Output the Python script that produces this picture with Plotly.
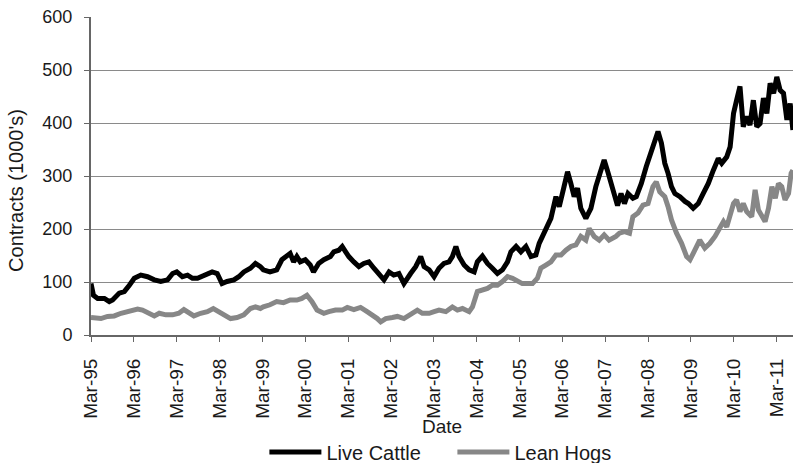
import pandas as pd
import plotly.graph_objects as go

# weekly open interest at roughly monthly steps
cattle_dates = [
    "1995-03-01", "1995-03-22", "1995-04-27", "1995-06-23", "1995-08-04", "1995-09-01", "1995-10-28", "1995-12-10",
    "1996-01-22", "1996-03-04", "1996-04-29", "1996-06-25", "1996-08-22", "1996-10-16", "1996-12-13",
    "1997-01-25", "1997-03-01", "1997-04-18", "1997-06-01", "1997-07-13", "1997-08-25", "1997-10-19", "1997-12-28",
    "1998-02-09", "1998-03-22", "1998-05-04", "1998-07-01", "1998-08-12", "1998-09-24", "1998-11-19",
    "1999-01-01", "1999-02-12",
    "1999-03-09", "1999-05-05", "1999-07-01", "1999-08-14", "1999-09-26", "1999-10-24", "1999-11-22", "1999-12-20",
    "2000-01-18", "2000-03-01", "2000-04-12", "2000-05-10", "2000-06-23", "2000-08-06", "2000-10-01", "2000-10-30", "2000-12-12",
    "2001-01-10", "2001-02-08", "2001-03-07", "2001-04-19", "2001-06-01", "2001-07-13", "2001-08-25", "2001-10-07", "2001-11-19",
    "2002-01-01", "2002-02-13", "2002-03-25", "2002-05-08", "2002-06-20", "2002-08-16", "2002-09-28", "2002-11-10", "2002-12-09",
    "2003-01-21", "2003-03-04",
    "2003-04-15", "2003-05-27", "2003-07-09", "2003-08-07", "2003-09-06", "2003-10-03", "2003-11-15", "2003-12-28",
    "2004-02-09", "2004-03-07", "2004-04-19", "2004-06-01", "2004-07-13", "2004-08-25", "2004-10-07", "2004-11-19", "2004-12-18",
    "2005-01-31", "2005-03-13", "2005-04-25", "2005-06-07", "2005-07-19", "2005-08-16", "2005-09-28", "2005-10-26", "2005-11-24",
    "2006-01-06", "2006-02-03", "2006-03-16", "2006-04-15", "2006-05-13", "2006-06-10", "2006-07-09", "2006-08-06", "2006-09-18",
    "2006-10-31", "2006-12-12",
    "2007-01-24", "2007-02-21", "2007-03-20", "2007-05-03", "2007-06-15",
    "2007-07-15", "2007-08-13", "2007-09-12", "2007-10-24", "2007-11-22",
    "2008-01-04", "2008-02-15", "2008-03-28", "2008-04-27", "2008-05-25", "2008-06-23", "2008-07-22", "2008-08-19", "2008-09-17",
    "2008-10-16", "2008-11-28",
    "2009-01-10", "2009-02-08", "2009-03-21", "2009-05-03", "2009-06-15", "2009-07-28", "2009-09-09", "2009-10-21", "2009-11-19",
    "2010-01-01", "2010-01-30", "2010-02-28", "2010-03-26", "2010-04-24", "2010-05-22", "2010-06-20", "2010-07-18", "2010-08-16",
    "2010-09-14", "2010-10-12", "2010-11-10", "2010-12-09",
    "2011-01-06", "2011-02-05", "2011-03-04", "2011-04-01", "2011-04-30", "2011-05-29", "2011-06-26", "2011-07-19",
]
cattle_values = [
    97, 75, 69, 69, 63, 66, 79, 82,
    94, 107, 113, 110, 104, 101, 104,
    116, 119, 110, 113, 107, 107, 113, 119,
    116, 97, 101, 104, 110, 119, 126,
    135, 129,
    123, 119, 123, 142, 148, 154, 138, 148,
    138, 142, 132, 119, 135, 142, 148, 157, 160,
    167, 157, 148, 138, 129, 135, 138, 126, 116,
    104, 119, 113, 116, 97, 116, 129, 148, 129,
    123, 110,
    126, 135, 138, 148, 167, 148, 132, 123,
    119, 138, 149, 135, 126, 116, 123, 138, 157,
    167, 157, 167, 148, 151, 173, 192, 204, 220,
    261, 242, 280, 308, 286, 261, 277, 239, 220,
    239, 280,
    311, 330, 311, 280, 244,
    267, 248, 267, 258, 261,
    286, 318, 343, 362, 384, 362, 324, 305, 280,
    267, 261,
    252, 248, 239, 248, 267, 286, 311, 333, 324,
    336, 355, 418, 443, 469, 393, 412, 396, 443,
    393, 399, 447, 418,
    475, 456, 487, 462, 456, 406, 437, 387,
]

hogs_dates = [
    "1995-03-01", "1995-05-25", "1995-07-20", "1995-09-15", "1995-11-12",
    "1996-01-07", "1996-04-01", "1996-05-13", "1996-07-09", "1996-08-22", "1996-10-03", "1996-11-28",
    "1997-01-25", "1997-03-19", "1997-05-01", "1997-06-13", "1997-07-25", "1997-09-21", "1997-11-17",
    "1998-01-07", "1998-02-24", "1998-04-07", "1998-06-03", "1998-07-28", "1998-09-24", "1998-11-19",
    "1999-01-01", "1999-02-12",
    "1999-03-09", "1999-05-05", "1999-07-01", "1999-08-28", "1999-10-24", "1999-12-20",
    "2000-02-01", "2000-03-15", "2000-04-27", "2000-06-09", "2000-08-06", "2000-09-18", "2000-11-13",
    "2001-01-10", "2001-02-22", "2001-04-19", "2001-06-15", "2001-08-10", "2001-09-23", "2001-11-05", "2001-12-04",
    "2002-01-16", "2002-03-13", "2002-04-25", "2002-06-20", "2002-08-16", "2002-10-12", "2002-11-24",
    "2003-01-21", "2003-03-04",
    "2003-04-15", "2003-06-12", "2003-08-07", "2003-09-19", "2003-11-01", "2003-12-28",
    "2004-01-25", "2004-03-07", "2004-04-19", "2004-06-01", "2004-07-13", "2004-08-25", "2004-10-07", "2004-11-19",
    "2005-01-01", "2005-02-12", "2005-03-25", "2005-05-08", "2005-06-20", "2005-08-01", "2005-08-30", "2005-10-12", "2005-11-24",
    "2006-01-06", "2006-02-18", "2006-04-01", "2006-05-13", "2006-06-25", "2006-08-06", "2006-09-18", "2006-10-16", "2006-11-28",
    "2007-01-10", "2007-02-21", "2007-04-04", "2007-06-01",
    "2007-07-01", "2007-08-13", "2007-09-25", "2007-10-24", "2007-12-06",
    "2008-01-18", "2008-03-01", "2008-04-12", "2008-05-10", "2008-06-09", "2008-07-22", "2008-08-19", "2008-09-17",
    "2008-10-30", "2008-12-12",
    "2009-01-24", "2009-02-22", "2009-04-04", "2009-05-16", "2009-06-28", "2009-08-10", "2009-09-23", "2009-11-05", "2009-12-04",
    "2010-01-01", "2010-01-30", "2010-02-28", "2010-03-26", "2010-04-24", "2010-05-22", "2010-06-20", "2010-08-02", "2010-08-31",
    "2010-09-28", "2010-10-27", "2010-11-24", "2010-12-23",
    "2011-01-21", "2011-02-19", "2011-03-18", "2011-04-15", "2011-05-13", "2011-06-12", "2011-07-04", "2011-07-19",
]
hogs_values = [
    33, 31, 35, 36, 41,
    44, 49, 47, 41, 36, 41, 38,
    38, 41, 48, 41, 36, 41, 44,
    50, 44, 38, 31, 33, 38, 50,
    53, 50,
    53, 57, 63, 61, 66, 66,
    69, 75, 63, 47, 41, 44, 47,
    47, 52, 48, 52, 44, 38, 31, 25,
    31, 33, 35, 31, 38, 47, 41,
    41, 44,
    47, 44, 53, 47, 50, 44,
    53, 82, 85, 88, 94, 94, 101, 110,
    107, 101, 97, 97, 97, 107, 126, 132, 138,
    151, 151, 160, 167, 170, 186, 179, 201, 186,
    179, 189, 179, 186,
    192, 195, 192, 223, 230,
    245, 248, 280, 289, 270, 261, 242, 217,
    192, 173,
    148, 142, 160, 179, 164, 173, 186, 204, 214,
    204, 226, 248, 255, 233, 248, 233, 223, 274,
    236, 223, 214, 239,
    280, 258, 286, 280, 255, 267, 305, 311,
]

tick_years = list(range(1995, 2012))
tick_dates = [pd.Timestamp(year=y, month=3, day=1) for y in tick_years]

font = "Liberation Sans, Arial, sans-serif"

fig = go.Figure()

fig.add_trace(go.Scatter(
    x=pd.to_datetime(cattle_dates),
    y=cattle_values,
    mode="lines",
    name="Live Cattle",
    line=dict(color="#000000", width=5)
))

fig.add_trace(go.Scatter(
    x=pd.to_datetime(hogs_dates),
    y=hogs_values,
    mode="lines",
    name="Lean Hogs",
    line=dict(color="#878787", width=5)
))

fig.update_layout(
    width=793,
    height=463,
    margin=dict(l=91, r=0, t=17, b=128, autoexpand=False),
    plot_bgcolor="white",
    paper_bgcolor="white",
    font=dict(family=font, size=18, color="#1a1a1a"),
    showlegend=True,
    legend=dict(
        orientation="h",
        x=0.247,
        xanchor="left",
        y=-0.368,
        yanchor="middle",
        font=dict(size=20),
        itemwidth=52,
        entrywidth=121
    ),
    annotations=[
        dict(text="Date", x=0.5, y=-0.289, xref="paper", yref="paper",
             xanchor="center", yanchor="middle", showarrow=False,
             font=dict(size=19)),
        dict(text="Contracts (1000's)", x=-0.107, y=0.456, xref="paper", yref="paper",
             xanchor="center", yanchor="middle", showarrow=False, textangle=-90,
             font=dict(size=20))
    ]
)

fig.update_xaxes(
    type="date",
    range=["1995-03-01", "2011-07-20"],
    tickmode="array",
    tickvals=tick_dates,
    ticktext=[d.strftime("%b-%y") for d in tick_dates],
    tickangle=-90,
    ticks="outside",
    ticklen=5,
    tickcolor="#666666",
    showline=True,
    linecolor="#666666",
    linewidth=2,
    showgrid=False,
    zeroline=False,
    ticklabelstandoff=9,
    tickfont=dict(size=19)
)

fig.update_yaxes(
    range=[0, 600],
    dtick=100,
    ticks="outside",
    ticklen=5,
    tickcolor="#666666",
    showline=True,
    linecolor="#666666",
    linewidth=2,
    showgrid=True,
    gridcolor="#8a8a8a",
    gridwidth=1,
    zeroline=False,
    ticklabelstandoff=8,
    tickfont=dict(size=18)
)

fig.write_html(
    "out.html",
    config={"displayModeBar": False},
    post_script="document.body.style.margin='0px';"
)
